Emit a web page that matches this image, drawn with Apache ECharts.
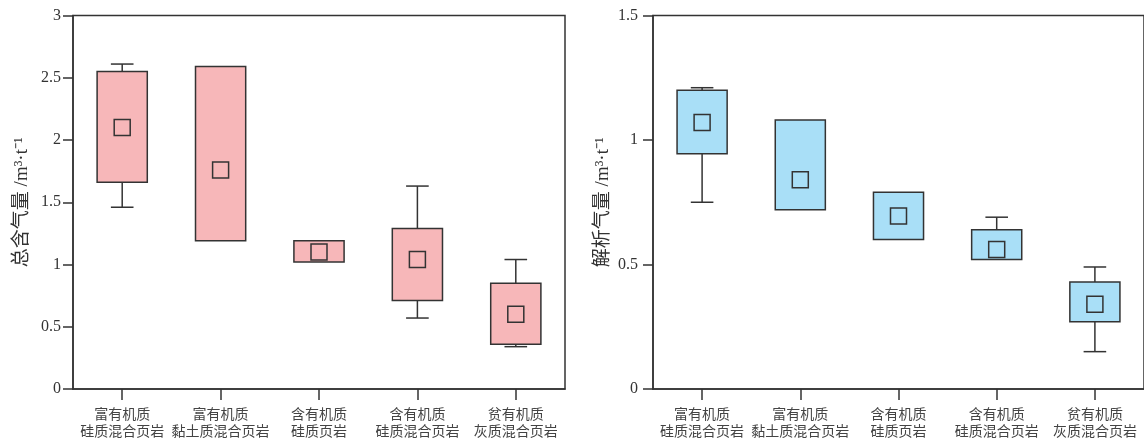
<!DOCTYPE html>
<html>
<head>
<meta charset="utf-8">
<script src="https://cdn.jsdelivr.net/npm/echarts@6/dist/echarts.min.js"></script>
<style>html,body{margin:0;padding:0;background:#fff;}#c{width:1144px;height:439px;}</style>
</head>
<body>
<div id="c"></div>
<script>
const categories = ['富有机质\n硅质混合页岩', '富有机质\n黏土质混合页岩', '含有机质\n硅质页岩', '含有机质\n硅质混合页岩', '贫有机质\n灰质混合页岩'];

// 总含气量 (left)
const totalMin  = [1.46, 1.19, 1.02, 0.57, 0.34];
const totalQ1   = [1.66, 1.19, 1.02, 0.71, 0.36];
const totalQ3   = [2.55, 2.59, 1.19, 1.29, 0.85];
const totalMax  = [2.61, 2.59, 1.19, 1.63, 1.04];
const totalMean = [2.10, 1.76, 1.10, 1.04, 0.60];

// 解析气量 (right)
const desMin  = [0.75, 0.72, 0.60, 0.52, 0.15];
const desQ1   = [0.945, 0.72, 0.60, 0.52, 0.27];
const desQ3   = [1.20, 1.08, 0.79, 0.64, 0.43];
const desMax  = [1.21, 1.08, 0.79, 0.69, 0.49];
const desMean = [1.07, 0.84, 0.695, 0.56, 0.34];

const leftTicks = { min: 0, max: 3, interval: 0.5 };
const rightTicks = { min: 0, max: 1.5, interval: 0.5 };

const pink = '#F7B7B9';
const blue = '#A9DFF7';
const ink = '#333333';

function boxData(mn, q1, q3, mx) {
  return categories.map((c, i) => [i, mn[i], q1[i], q3[i], mx[i]]);
}
function meanData(m) { return categories.map((c, i) => [i, m[i]]); }

function makeRender(fill) {
  return function (params, api) {
    const x = api.value(0);
    const mn = api.value(1), q1 = api.value(2), q3 = api.value(3), mx = api.value(4);
    const band = api.size([1, 0])[0];
    const bw = band * 0.51, cw = band * 0.23;
    const pQ1 = api.coord([x, q1]), pQ3 = api.coord([x, q3]);
    const pMin = api.coord([x, mn]), pMax = api.coord([x, mx]);
    const cx = pQ1[0];
    const ls = { stroke: ink, lineWidth: 1.5, fill: null };
    const children = [];
    if (mx > q3) {
      children.push({ type: 'line', shape: { x1: cx, y1: pQ3[1], x2: cx, y2: pMax[1] }, style: ls });
      children.push({ type: 'line', shape: { x1: cx - cw / 2, y1: pMax[1], x2: cx + cw / 2, y2: pMax[1] }, style: ls });
    }
    if (mn < q1) {
      children.push({ type: 'line', shape: { x1: cx, y1: pQ1[1], x2: cx, y2: pMin[1] }, style: ls });
      children.push({ type: 'line', shape: { x1: cx - cw / 2, y1: pMin[1], x2: cx + cw / 2, y2: pMin[1] }, style: ls });
    }
    children.push({
      type: 'rect',
      shape: { x: cx - bw / 2, y: pQ3[1], width: bw, height: pQ1[1] - pQ3[1] },
      style: { fill: fill, stroke: ink, lineWidth: 1.5 }
    });
    return { type: 'group', children: children };
  };
}

const labelFont = 'Liberation Serif, Noto Sans CJK SC, serif';
const cjkFont = 'Noto Sans CJK SC, sans-serif';

function xAxis(gi) {
  return {
    type: 'category', gridIndex: gi, data: categories, boundaryGap: true,
    axisLine: { show: true, lineStyle: { color: ink, width: 1.5 } },
    axisTick: { show: true, alignWithLabel: true, length: 11, lineStyle: { color: ink, width: 1.5 } },
    axisLabel: { margin: 16, color: '#444', fontFamily: cjkFont, fontSize: 14, lineHeight: 17, interval: 0 },
    splitLine: { show: false }
  };
}
function yAxis(gi, t, name, margin, gap) {
  return {
    type: 'value', gridIndex: gi, min: t.min, max: t.max, interval: t.interval,
    name: name, nameLocation: 'middle', nameRotate: 90, nameGap: gap,
    nameTextStyle: { fontFamily: labelFont, fontSize: 19, color: '#333' },
    axisLine: { show: true, lineStyle: { color: ink, width: 1.5 } },
    axisTick: { show: true, length: 10, lineStyle: { color: ink, width: 1.5 } },
    axisLabel: { margin: margin, color: '#333', fontFamily: labelFont, fontSize: 16 },
    splitLine: { show: false }
  };
}

const chart = echarts.init(document.getElementById('c'), null, { renderer: 'canvas' });
chart.setOption({
  animation: false,
  backgroundColor: '#fff',
  grid: [
    { left: 73, top: 15.5, width: 492, height: 373.5, show: true, borderColor: ink, borderWidth: 1.5, backgroundColor: 'transparent' },
    { left: 653, top: 15.5, width: 493, height: 373.5, show: true, borderColor: ink, borderWidth: 1.5, backgroundColor: 'transparent' }
  ],
  xAxis: [xAxis(0), xAxis(1)],
  yAxis: [
    yAxis(0, leftTicks, '总含气量 /m³·t⁻¹', 12, 41),
    yAxis(1, rightTicks, '解析气量 /m³·t⁻¹', 15, 40)
  ],
  series: [
    { type: 'custom', xAxisIndex: 0, yAxisIndex: 0, renderItem: makeRender(pink),
      data: boxData(totalMin, totalQ1, totalQ3, totalMax), encode: { x: 0, y: [1, 2, 3, 4] }, z: 2 },
    { type: 'scatter', xAxisIndex: 0, yAxisIndex: 0, data: meanData(totalMean), symbol: 'rect', symbolSize: 16,
      itemStyle: { color: pink, borderColor: ink, borderWidth: 1.5, opacity: 1 }, z: 3 },
    { type: 'custom', xAxisIndex: 1, yAxisIndex: 1, renderItem: makeRender(blue),
      data: boxData(desMin, desQ1, desQ3, desMax), encode: { x: 0, y: [1, 2, 3, 4] }, z: 2 },
    { type: 'scatter', xAxisIndex: 1, yAxisIndex: 1, data: meanData(desMean), symbol: 'rect', symbolSize: 16,
      itemStyle: { color: blue, borderColor: ink, borderWidth: 1.5, opacity: 1 }, z: 3 }
  ]
});
</script>
</body>
</html>
